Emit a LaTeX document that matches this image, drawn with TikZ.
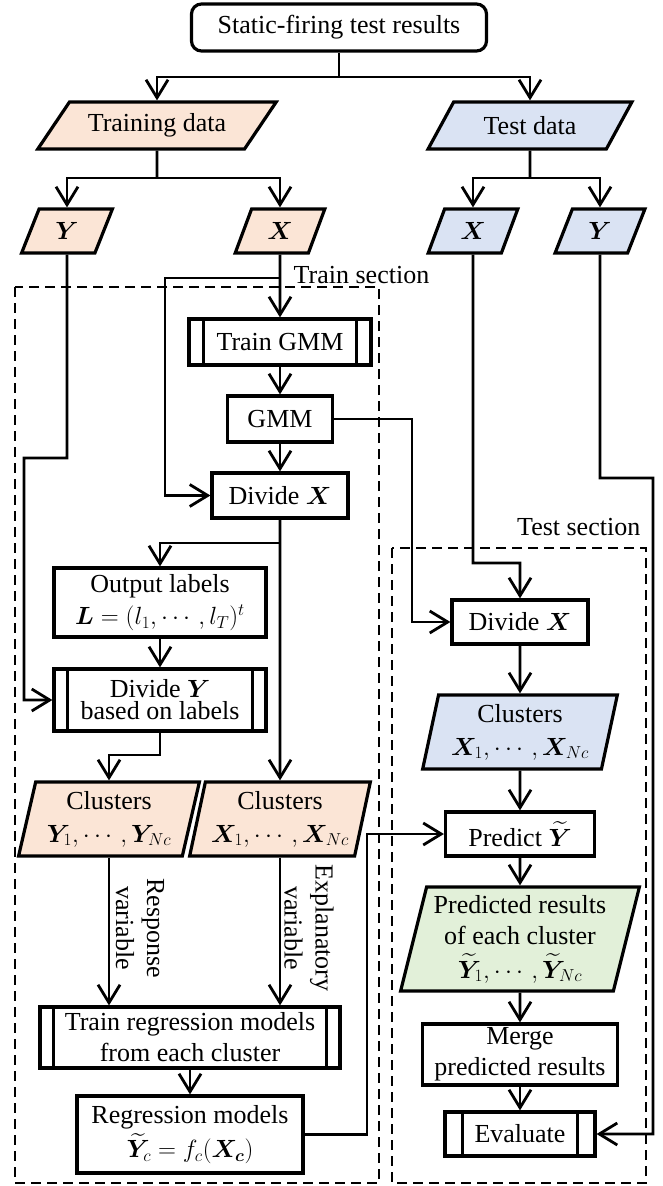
\documentclass[tikz,border=0pt]{standalone}
\usepackage{fontspec}
\setmainfont{Liberation Serif}
\usepackage{amsmath,bm}
\usetikzlibrary{shapes.geometric,arrows.meta}
\definecolor{trainfill}{HTML}{FBE5D6}
\definecolor{testfill}{HTML}{DAE3F3}
\definecolor{predfill}{HTML}{E2F0D9}

\begin{document}
\begin{tikzpicture}[x=1pt,y=-1pt,line width=2.8pt,
  font=\fontsize{26}{31}\selectfont,
  box/.style={draw, line width=3.2pt, fill=white, align=center, inner sep=2pt},
  iodata/.style={draw, line width=3.2pt, trapezium, trapezium left angle=#1,
    trapezium right angle=180-#1, trapezium stretches=true, align=center, inner sep=2pt},
  arr/.style={-{Straight Barb[length=18pt,width=22pt]}},
  sect/.style={line width=2.6pt, dash pattern=on 10pt off 6pt}]
\useasboundingbox (0,0) rectangle (662,1186);

% sections
\draw[sect] (15,287) rectangle (379,1183);
\draw[sect] (392,548) rectangle (646,1183);
\node[anchor=base west] (trainsec) at (289,283) {Train section};
\node[anchor=base east] (testsec) at (645,535) {Test section};

% data
\node[box, rounded corners=10pt, minimum width=295pt, minimum height=47pt] (start) at (339,27.5) {Static-firing test results};
\node[iodata=47, fill=trainfill, minimum width=239pt, minimum height=47pt] (traindata) at (157,125.5) {Training data};
\node[iodata=54, fill=testfill, minimum width=204pt, minimum height=47pt] (testdata) at (530,125.5) {Test data};
\node[iodata=68, fill=trainfill, minimum width=91pt, minimum height=44pt] (trY) at (67,231) {$\bm{Y}$};
\node[iodata=68, fill=trainfill, minimum width=90pt, minimum height=44pt] (trX) at (280,231) {$\bm{X}$};
\node[iodata=68, fill=testfill, minimum width=90pt, minimum height=44pt] (teX) at (473,231) {$\bm{X}$};
\node[iodata=68, fill=testfill, minimum width=90pt, minimum height=44pt] (teY) at (600,231) {$\bm{Y}$};

% train section
\node[box, minimum width=182pt, minimum height=46pt] (traingmm) at (280,342) {Train GMM};
\node[box, minimum width=105pt, minimum height=46pt] (gmm) at (280,419) {GMM};
\node[box, minimum width=136pt, minimum height=45pt] (divx) at (280,495.5) {Divide $\bm{X}$};
\node[box, minimum width=212pt, minimum height=69pt] (labels) at (160,602.5) {Output labels\\[1pt]$\bm{L}=(l_1,\cdots,l_T)^t$};
\node[box, minimum width=212pt, minimum height=62pt] (divy) at (160,700) {Divide $\bm{Y}$\\[-9pt]based on labels};
\node[iodata=76, fill=trainfill, minimum width=181pt, minimum height=74pt] (clY) at (109,819) {Clusters\\[2pt]$\bm{Y}_1,\cdots,\bm{Y}_{Nc}$};
\node[iodata=76, fill=trainfill, minimum width=181pt, minimum height=74pt] (clX) at (280,819) {Clusters\\[2pt]$\bm{X}_1,\cdots,\bm{X}_{Nc}$};
\node[box, minimum width=300pt, minimum height=61pt] (trainreg) at (190,1037.5) {Train regression models\\from each cluster};
\node[box, minimum width=226pt, minimum height=77pt] (regmodels) at (190,1134.5) {Regression models\\[3pt]$\widetilde{\bm{Y}}_c=f_c(\bm{X_c})$};
\node[rotate=-90, align=center] (resp) at (140,928) {Response\\variable};
\node[rotate=-90, align=center] (expl) at (309,928) {Explanatory\\variable};

% test section
\node[box, minimum width=136pt, minimum height=44pt] (tdivx) at (520,622) {Divide $\bm{X}$};
\node[iodata=77, fill=testfill, minimum width=195pt, minimum height=74pt] (tclX) at (520,732) {Clusters\\[2pt]$\bm{X}_1,\cdots,\bm{X}_{Nc}$};
\node[box, minimum width=149pt, minimum height=44pt] (predict) at (520,834) {Predict $\widetilde{\bm{Y}}$};
\node[iodata=75, fill=predfill, minimum width=239pt, minimum height=104pt] (predres) at (520,939) {Predicted results\\of each cluster\\[3pt]$\widetilde{\bm{Y}}_1,\cdots,\widetilde{\bm{Y}}_{Nc}$};
\node[box, minimum width=195pt, minimum height=61pt] (merge) at (520,1054.5) {Merge\\predicted results};
\node[box, minimum width=150pt, minimum height=44pt] (evaluate) at (520,1134) {Evaluate};

% side bars of the process boxes
\foreach \n/\d in {traingmm/16pt, divy/15pt, trainreg/15pt, evaluate/19pt} {
  \draw[line width=3.2pt] ([xshift=\d]\n.north west) -- ([xshift=\d]\n.south west);
  \draw[line width=3.2pt] ([xshift=-\d]\n.north east) -- ([xshift=-\d]\n.south east);
}

% connectors
\coordinate (j0) at (339,77);
\coordinate (j1) at (157,178);
\coordinate (j2) at (530,178);
\coordinate (j3) at (280,278);
\coordinate (j4) at (165,278);
\coordinate (j5) at (280,543);
\coordinate (j6) at (67,458);
\coordinate (j7) at (24,458);
\coordinate (j8) at (160,755);
\coordinate (j9) at (367,1134.5);
\coordinate (j10) at (412,419);
\coordinate (j11) at (473,563);
\coordinate (j12) at (600,478);
\coordinate (j13) at (653,478);

\draw (start.south) -- (j0);
\draw[arr] (j0) -| (traindata.north);
\draw[arr] (j0) -| (testdata.north);
\draw (traindata.south) -- (j1);
\foreach \n in {trY,trX} \draw[arr] (j1) -| (\n.north);
\draw (testdata.south) -- (j2);
\foreach \n in {teX,teY} \draw[arr] (j2) -| (\n.north);
\draw[arr] (trX.south) -- (traingmm.north);
\draw[arr] (j3) -- (j4) |- (divx.west);
\foreach \a/\b in {traingmm/gmm, gmm/divx, divx/clX, labels/divy, trainreg/regmodels,
  tdivx/tclX, tclX/predict, predict/predres, predres/merge, merge/evaluate}
  \draw[arr] (\a.south) -- (\b.north);
\draw[arr] (j5) -| (labels.north);
\draw[arr] (trY.south) -- (j6) -- (j7) |- (divy.west);
\draw[arr] (divy.south) -- (j8) -| (clY.north);
\draw[arr] (clY.south) -- (clY.south |- trainreg.north);
\draw[arr] (clX.south) -- (clX.south |- trainreg.north);
\draw[arr] (regmodels.east) -- (j9) |- (predict.west);
\draw[arr] (gmm.east) -- (j10) |- (tdivx.west);
\draw[arr] (teX.south) -- (j11) -| (tdivx.north);
\draw[arr] (teY.south) -- (j12) -- (j13) |- (evaluate.east);
\end{tikzpicture}
\end{document}
